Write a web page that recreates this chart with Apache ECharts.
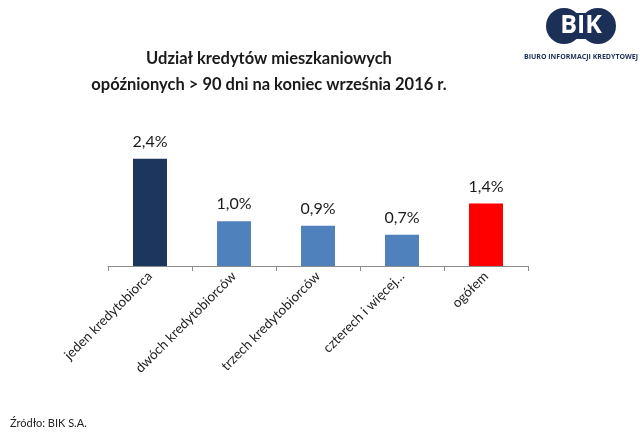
<!DOCTYPE html>
<html><head><meta charset="utf-8">
<script src="https://cdn.jsdelivr.net/npm/echarts@6/dist/echarts.min.js"></script>
<style>html,body{margin:0;padding:0;background:#fff}#c{width:640px;height:441px}</style>
</head><body><div id="c"></div>
<script>
var categories = ['jeden kredytobiorca', 'dwóch kredytobiorców', 'trzech kredytobiorców', 'czterech i więcej…', 'ogółem'];
var values = [2.4, 1.0, 0.9, 0.7, 1.4];
var barColors = ['#1c365e', '#4f81bd', '#4f81bd', '#4f81bd', '#ff0000'];
var titleText = 'Udział kredytów mieszkaniowych\nopóźnionych > 90 dni na koniec września 2016 r.';
var sourceText = 'Źródło: BIK S.A.';

var chart = echarts.init(document.getElementById('c'), null, {renderer: 'canvas'});
chart.setOption({
  animation: false,
  backgroundColor: '#fff',
  textStyle: {fontFamily: 'Lato'},
  title: {
    text: titleText,
    left: 264, top: 41, textAlign: 'center',
    textStyle: {fontSize: 16.5, fontWeight: 'bold', color: '#1a1a1a', lineHeight: 26, fontFamily: 'Lato'}
  },
  grid: {left: 108, right: 112, top: 132, bottom: 175},
  xAxis: {
    type: 'category', data: categories,
    axisLine: {lineStyle: {color: '#8c8c8c', width: 1}},
    axisTick: {show: true, length: 5, lineStyle: {color: '#8c8c8c'}},
    axisLabel: {rotate: 45, fontSize: 13.5, color: '#222', margin: 8, interval: 0, fontFamily: 'Lato'}
  },
  yAxis: {type: 'value', min: 0, max: 3, show: false, splitLine: {show: false}},
  series: [{
    type: 'bar', barWidth: 34,
    data: values.map(function (v, i) { return {value: v, itemStyle: {color: barColors[i]}}; }),
    label: {
      show: true, position: 'top', distance: 9, fontSize: 16, color: '#1a1a1a', fontFamily: 'Lato',
      formatter: function (p) { return p.value.toFixed(1).replace('.', ',') + '%'; }
    }
  }],
  graphic: [
    {type: 'circle', shape: {cx: 564, cy: 26, r: 18}, style: {fill: '#1c2f56'}},
    {type: 'circle', shape: {cx: 598, cy: 26, r: 18}, style: {fill: '#1c2f56'}},
    {type: 'rect', shape: {x: 564, y: 13, width: 34, height: 26}, style: {fill: '#1c2f56'}},
    {type: 'text', x: 581, y: 26, style: {text: 'BIK', fill: '#fff', font: 'bold 25px "Open Sans"', align: 'center', verticalAlign: 'middle'}},
    {type: 'text', x: 581, y: 57, style: {text: 'BIURO INFORMACJI KREDYTOWEJ', fill: '#1c2f56', font: 'bold 7px "Open Sans"', align: 'center', verticalAlign: 'middle'}},
    {type: 'text', x: 10, y: 423, style: {text: sourceText, fill: '#222', font: '11px Lato', align: 'left', verticalAlign: 'middle'}}
  ]
});
</script></body></html>
